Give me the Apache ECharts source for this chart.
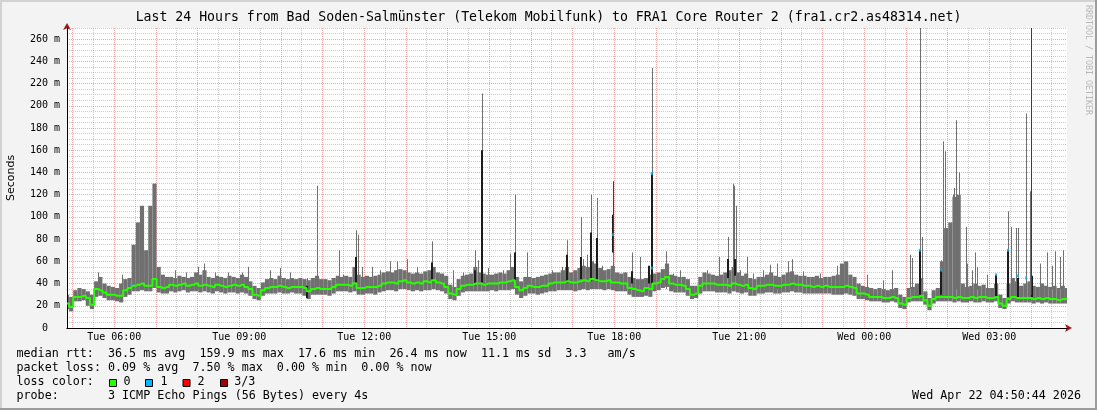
<!DOCTYPE html>
<html><head><meta charset="utf-8">
<script src="https://cdn.jsdelivr.net/npm/echarts@6/dist/echarts.min.js"></script>
<style>html,body{margin:0;padding:0;background:#f3f3f3}#c{width:1097px;height:410px}</style>
</head><body><div id="c"></div>
<script>
// ---------- text ----------
const titleText = 'Last 24 Hours from Bad Soden-Salmünster (Telekom Mobilfunk) to FRA1 Core Router 2 (fra1.cr2.as48314.net)';
const yAxisName = 'Seconds';
const sideText = 'RRDTOOL / TOBI OETIKER';
const stampText = 'Wed Apr 22 04:50:44 2026';
const legendLines = [
  'median rtt:  36.5 ms avg  159.9 ms max  17.6 ms min  26.4 ms now  11.1 ms sd  3.3   am/s',
  'packet loss: 0.09 % avg  7.50 % max  0.00 % min  0.00 % now',
  'loss color:',
  'probe:       3 ICMP Echo Pings (56 Bytes) every 4s'
];
const lossLabels = ['0', '1', '2', '3/3'];
const lossColors = ['#26ff00', '#00b8ff', '#ff0000', '#a00000'];

// ---------- axes ----------
const startMinute = 4 * 60 + 52;   // Tue 04:52
const spanMinutes = 1440;
const sampleStep = 6;              // minutes between samples
const yMax = 270;
const yLabelStep = 20;

// ---------- series values (ms), one sample every 6 minutes ----------
const median = [
 22,19,28,28,29,27,21,35,34,32,30,30,29,29,34,36,38,39,40,38,38,44,37,36,37,
 39,38,39,40,38,39,40,38,39,38,37,39,38,37,38,39,38,39,37,35,30,29,34,
 36,37,37,38,37,36,37,37,37,36,33,35,36,35,35,35,
 37,39,39,39,38,40,36,36,37,37,37,38,40,41,41,40,
 42,43,41,40,41,40,42,41,43,41,40,37,31,30,35,38,
 39,39,40,40,39,40,40,40,41,41,42,43,37,34,36,38,
 37,37,38,38,40,41,41,41,42,41,41,42,43,42,44,43,
 42,42,43,41,41,40,40,36,35,34,33,36,35,40,41,44,
 46,40,39,39,38,35,30,31,38,40,40,40,39,39,39,38,
 40,39,38,39,36,35,38,38,39,39,38,38,39,39,40,39,
 39,38,38,37,38,37,38,37,37,37,37,38,37,36,31,31,
 30,28,28,28,27,27,28,27,22,21,27,28,28,29,25,20,
 26,28,28,28,28,27,28,27,27,28,27,28,28,27,27,28,
 22,20,26,28,27,27,27,27,26,27,26,27,26,26,25,26,26
];
const smokeLow = [
 17,15,24,24,25,20,17,28,29,27,25,25,24,23,28,30,33,33,34,33,33,36,32,31,31,
 33,32,33,34,32,33,33,32,33,32,31,33,32,31,32,32,31,32,31,29,26,25,29,
 31,31,31,32,31,31,32,31,31,29,26,30,30,30,30,29,
 31,33,33,33,32,33,30,30,31,31,30,32,33,34,34,33,
 35,35,34,33,34,33,34,34,35,34,33,31,26,25,29,32,
 33,33,33,33,33,33,34,33,34,34,34,35,30,27,29,31,
 31,30,31,32,33,33,34,34,34,34,33,34,35,34,35,35,
 35,34,35,34,33,33,33,30,28,28,28,29,28,33,34,36,
 37,33,32,32,32,29,26,27,31,33,33,33,32,32,32,31,
 33,32,31,32,29,29,31,31,32,32,31,31,32,32,33,32,
 32,31,31,31,31,31,31,31,30,30,30,31,30,29,26,26,
 25,24,24,24,23,23,24,23,18,17,23,24,24,24,21,16,
 22,24,24,24,24,23,24,23,23,24,23,23,24,23,23,24,
 18,17,22,24,23,23,23,23,22,23,22,23,22,22,22,22,22
];
const smokeHigh = [
 30,28,34,36,35,33,30,42,46,40,38,37,36,40,44,45,75,95,110,70,110,130,55,48,46,
 46,45,47,46,45,46,50,48,52,46,45,47,46,45,47,46,45,48,46,42,38,36,41,
 44,45,44,47,45,44,45,44,45,44,43,45,47,44,44,43,
 45,47,46,47,46,55,48,46,47,46,47,48,50,51,50,52,
 53,52,50,49,50,49,51,52,55,50,49,47,39,37,44,47,
 48,49,55,50,49,48,48,49,50,49,52,55,46,42,46,46,
 45,46,47,48,49,50,50,52,55,50,52,54,56,55,60,58,
 54,52,53,56,50,49,50,46,45,44,44,45,48,49,50,53,
 58,48,47,46,46,44,38,38,46,50,49,48,47,48,50,52,
 55,50,47,49,45,44,46,46,48,50,47,46,48,50,51,48,
 47,47,46,46,47,45,46,46,47,48,58,60,48,46,40,38,
 37,36,35,36,35,34,35,36,30,28,36,37,40,45,33,27,
 34,36,60,90,95,118,120,40,37,38,40,38,39,36,36,40,
 30,27,40,45,42,38,40,42,38,37,40,38,37,38,36,38,36
];
// single-ping spikes: minute offset from start, top value (ms)
const spikeMin = [45,79,156,171,189,197,213,232,252,261,292,307,321,346,360,392,397,416,419,425,439,451,465,475,480,490,504,525,556,570,588,592,597,606,628,638,645,662,698,713,720,740,743,749,755,763,770,786,804,814,825,842,863,873,883,916,922,939,952,959,961,963,969,979,988,1002,1012,1022,1038,1044,1060,1084,1109,1152,1175,1188,1214,1217,1228,1231,1259,1261,1265,1276,1277,1280,1285,1295,1296,1303,1308,1310,1325,1355,1359,1366,1369,1381,1387,1401,1411,1418,1423,1430,1434];
const spikeTop = [50,48,52,50,55,58,50,50,50,55,52,54,50,45,128,70,48,88,84,55,55,52,60,60,52,62,55,78,52,50,70,61,211,54,52,67,120,68,52,55,79,100,62,66,120,117,56,132,50,68,64,234,69,49,52,49,52,64,82,130,128,110,52,64,49,52,57,58,60,62,51,49,56,48,43,52,66,63,270,82,61,168,159,120,126,187,140,91,58,52,68,55,48,105,91,90,90,193,123,58,68,56,69,64,70];
// dense (dark) smoke segments
const darkMin = [346,416,525,588,597,645,720,740,755,763,786,814,838,842,952,962,1228,1259,1338,1355,1369,1389];
const darkLo  = [27,41,41,40,41,41,41,44,42,42,68,40,40,40,45,47,30,30,28,28,28,28];
const darkHi  = [38,64,59,52,160,68,66,64,86,81,102,51,56,139,62,62,70,52,48,70,45,47];
// loss 1/3 marks
const loss1Min = [93,786,842,842,1228,1259,1338,1355,1369,1381];
const loss1Val = [39,84,139,54,70,52,48,70,47,45];
// 3/3 loss marks
const loss3Min = [786,1388];
const loss3Lo  = [68,30];
const loss3Hi  = [132,270];

// ---------- build ----------
function pad(n){return (n<10?'0':'')+n;}
const categories = [];
for (let i = 0; i <= spanMinutes; i++) {
  const tot = startMinute + i;
  const day = tot >= 1440 ? 'Wed' : 'Tue';
  const m = tot % 1440;
  categories.push(day + ' ' + pad(Math.floor(m/60)) + ':' + pad(m%60));
}
const mm = v => String(v).slice(-2);
const hh = v => +String(v).slice(4,6);
const isHour = (i, v) => mm(v) === '00';
const isHalf = (i, v) => mm(v) === '30';
const isLabel = (i, v) => mm(v) === '00' && hh(v) % 3 === 0;

const bandData = median.map((_, i) => [i*sampleStep, smokeLow[i], smokeHigh[i]]);
const medData = median.map((v, i) => [i*sampleStep, v]);
const spikeData = spikeMin.map((m, i) => [m, 35, spikeTop[i]]);
const darkData = darkMin.map((m, i) => [m, darkLo[i], darkHi[i]]);
const loss1Data = loss1Min.map((m, i) => [m, loss1Val[i]]);
const loss3Data = loss3Min.map((m, i) => [m, loss3Lo[i], loss3Hi[i]]);

function bandItem(params, api){
  const m = api.value(0);
  const a = api.coord([m, api.value(1)]);
  const b = api.coord([m, api.value(2)]);
  const half = (api.coord([sampleStep,0])[0] - api.coord([0,0])[0]) / 2;
  return {type:'rect', shape:{x:a[0]-half, y:b[1], width:half*2, height:a[1]-b[1]}, style:{fill:'#707070'}};
}
function lineItem(color, width){
  return function(params, api){
    const m = api.value(0);
    const a = api.coord([m, api.value(1)]);
    const b = api.coord([m, api.value(2)]);
    const x = Math.round(a[0]) + (width % 2 ? 0.5 : 0);
    return {type:'line', shape:{x1:x, y1:a[1], x2:x, y2:b[1]}, style:{stroke:color, lineWidth:width}};
  };
}

const MONO = '"DejaVu Sans Mono", monospace';
const RED_GRID = 'rgba(233,58,58,0.45)';
const GREY_GRID = 'rgba(130,130,130,0.40)';
const yLineColors = [];
for (let v = 0; v <= yMax; v += 5) yLineColors.push(v % yLabelStep === 0 ? RED_GRID : GREY_GRID);

const graphics = [
  {type:'rect', shape:{x:0,y:0,width:1097,height:2}, style:{fill:'#d2d2d2'}, silent:true},
  {type:'rect', shape:{x:0,y:0,width:2,height:410}, style:{fill:'#d2d2d2'}, silent:true},
  {type:'rect', shape:{x:0,y:408,width:1097,height:2}, style:{fill:'#9c9c9c'}, silent:true},
  {type:'rect', shape:{x:1095,y:0,width:2,height:410}, style:{fill:'#9c9c9c'}, silent:true},
  {type:'text', x:548.5, y:18, style:{text:titleText, font:'13.2px '+MONO, fill:'#000', align:'center', verticalAlign:'middle'}},
  {type:'text', x:1088, y:60, rotation:-Math.PI/2, style:{text:sideText, font:'8.3px '+MONO, fill:'#b8b8b8', align:'center', verticalAlign:'middle'}},
  {type:'text', x:1081, y:396, style:{text:stampText, font:'11.7px '+MONO, fill:'#000', align:'right', verticalAlign:'middle'}}
];
const lineY = [354, 368, 382, 396];
legendLines.forEach((t, i) => graphics.push({type:'text', x:16.5, y:lineY[i], style:{text:t, font:'11.7px '+MONO, fill:'#000', align:'left', verticalAlign:'middle'}}));
const boxX = [109, 145, 182.5, 220];
const labX = [123.5, 160.6, 197.5, 234.3];
lossLabels.forEach((l, i) => {
  graphics.push({type:'rect', shape:{x:boxX[i]+0.5, y:379.5, width:7, height:7}, style:{fill:lossColors[i], stroke:'#000', lineWidth:1}});
  graphics.push({type:'text', x:labX[i], y:382, style:{text:l, font:'11.7px '+MONO, fill:'#000', align:'left', verticalAlign:'middle'}});
});

const chart = echarts.init(document.getElementById('c'), null, {renderer:'canvas'});
chart.setOption({
  animation: false,
  backgroundColor: '#f3f3f3',
  grid: {left:67, right:30, top:28, bottom:82, show:true, backgroundColor:'#ffffff', borderWidth:0,
         containLabel:false, outerBoundsMode:'none'},
  xAxis: [
    {type:'category', data:categories, boundaryGap:false, z:3,
     axisLine:{show:true, lineStyle:{color:'#000', width:1}},
     axisTick:{show:false, interval:isHour},
     axisLabel:{interval:isLabel, margin:4, fontFamily:MONO, fontSize:10, color:'#000'},
     splitLine:{show:true, interval:isHour, lineStyle:{color:RED_GRID, type:[1,1], width:1}}},
    {type:'category', data:categories, boundaryGap:false, position:'bottom', z:2,
     axisLine:{show:true, symbol:['none','arrow'], symbolSize:[6,7], symbolOffset:[0,5], lineStyle:{color:'#a01818', width:1}},
     axisTick:{show:false, interval:isHalf}, axisLabel:{show:false, interval:isHalf},
     splitLine:{show:true, interval:isHalf, lineStyle:{color:GREY_GRID, type:[1,1], width:1}}}
  ],
  yAxis: [
    {type:'value', min:0, max:yMax, interval:5, z:3,
     name:yAxisName, nameLocation:'middle', nameGap:50, nameRotate:90,
     nameTextStyle:{fontFamily:'"DejaVu Sans", sans-serif', fontSize:11, color:'#000'},
     axisLine:{show:true, lineStyle:{color:'#000', width:1}},
     axisTick:{show:false},
     axisLabel:{margin:7, fontFamily:MONO, fontSize:10, color:'#000', showMaxLabel:false,
       formatter: v => (v % yLabelStep === 0 ? (v === 0 ? '0  ' : v + ' m') : '')},
     splitLine:{show:true, lineStyle:{color:yLineColors, type:[1,1], width:1}}},
    {type:'value', min:0, max:yMax, position:'left', offset:0, z:2,
     axisLine:{show:true, symbol:['none','arrow'], symbolSize:[6,7], symbolOffset:[0,5], lineStyle:{color:'#a01818', width:1}},
     axisTick:{show:false}, axisLabel:{show:false}, splitLine:{show:false}}
  ],
  graphic: graphics,
  series: [
    {type:'custom', name:'spikes', data:spikeData, renderItem:lineItem('#707070', 1), clip:true, z:2, silent:true},
    {type:'custom', name:'smoke', data:bandData, renderItem:bandItem, clip:true, z:3, silent:true},
    {type:'custom', name:'dense', data:darkData, renderItem:lineItem('#1c1c1c', 2), clip:true, z:4, silent:true},
    {type:'custom', name:'loss 3/3', data:loss3Data, renderItem:lineItem('#8c1c1c', 1), clip:true, z:4, silent:true},
    {type:'line', name:'median', data:medData, step:'middle', showSymbol:false, symbol:'none',
     lineStyle:{color:'#26ff00', width:2}, z:5, silent:true},
    {type:'scatter', name:'loss 1', data:loss1Data, symbol:'rect', symbolSize:[2,3],
     itemStyle:{color:'#00b8ff'}, z:6, silent:true}
  ]
});
</script>
</body></html>
